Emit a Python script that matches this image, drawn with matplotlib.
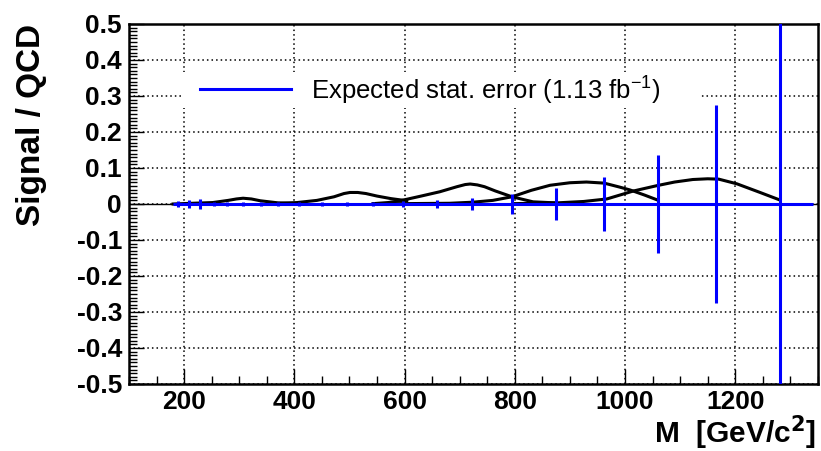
import matplotlib
matplotlib.use("Agg")
import matplotlib.pyplot as plt
from matplotlib.patches import Rectangle
from matplotlib.ticker import MultipleLocator
import numpy as np

# expected statistical error bars (bin centre, half error)
bin_mass = [189, 208, 229, 254, 278, 307, 339, 371, 408, 450, 495, 543,
            598, 658, 723, 795, 875, 962, 1059, 1165, 1281]
bin_err = [0.009, 0.010, 0.013, 0.005, 0.005, 0.006, 0.005, 0.005, 0.005,
           0.005, 0.005, 0.005, 0.008, 0.011, 0.018, 0.028, 0.044, 0.0745,
           0.136, 0.275, 0.6]
hist_lo, hist_hi = 180, 1341

# signal / QCD curves, one per resonance mass
curve_a_m = [180, 215, 252, 280, 295, 307, 322, 338, 371, 420]
curve_a_v = [0.0, 0.002, 0.004, 0.010, 0.014, 0.0160, 0.014, 0.009, 0.003, 0.0005]
curve_b_m = [361, 405, 441, 472, 490, 501, 515, 530, 550, 575, 604]
curve_b_v = [0.001, 0.004, 0.010, 0.020, 0.029, 0.032, 0.032, 0.029, 0.022,
             0.015, 0.009]
curve_c_m = [543, 570, 592, 630, 664, 695, 710, 719, 732, 745, 765, 795,
             833, 875]
curve_c_v = [0.001, 0.004, 0.009, 0.022, 0.034, 0.048, 0.054, 0.0555, 0.053,
             0.048, 0.036, 0.020, 0.006, 0.003]
curve_d_m = [543, 597, 682, 724, 760, 795, 830, 864, 900, 930, 962, 990,
             1009, 1035, 1059]
curve_d_v = [0.0, 0.001, 0.002, 0.005, 0.010, 0.020, 0.038, 0.052, 0.059,
             0.061, 0.058, 0.047, 0.039, 0.025, 0.011]
curve_e_m = [800, 875, 925, 967, 1015, 1058, 1090, 1123, 1150, 1170, 1203,
             1245, 1281]
curve_e_v = [0.001, 0.003, 0.007, 0.014, 0.036, 0.051, 0.061, 0.068, 0.070,
             0.069, 0.056, 0.032, 0.011]
curves = [(curve_a_m, curve_a_v), (curve_b_m, curve_b_v), (curve_c_m, curve_c_v),
          (curve_d_m, curve_d_v), (curve_e_m, curve_e_v)]

plt.rcParams["font.family"] = ["Liberation Sans", "DejaVu Sans"]
blue = "#0000FF"

fig = plt.figure(figsize=(8.21, 4.51), dpi=100)
ax = fig.add_axes([0.1571, 0.1486, 0.8392, 0.7982])
ax.set_xlim(100, 1350)
ax.set_ylim(-0.5, 0.5)

ax.grid(True, which="major", color="black", ls=(0, (1, 2)), lw=1.1)
ax.set_axisbelow(True)

ax.axhline(0, color="black", lw=1.0, zorder=2)
for m, v in curves:
    ax.plot(m, v, color="black", lw=2.2, zorder=3, solid_joinstyle="round")
ax.hlines(0, hist_lo, hist_hi, color=blue, lw=2.2, zorder=4)
ax.errorbar(bin_mass, np.zeros(len(bin_mass)), yerr=bin_err, fmt="none",
            ecolor=blue, elinewidth=2.2, capsize=0, zorder=4)

# legend box, no border, white fill over the grid
ax.add_patch(Rectangle((0.0755, 0.767), 0.755, 0.100, transform=ax.transAxes,
                       facecolor="white", edgecolor="none", zorder=1.5))
ax.plot([0.103, 0.235], [0.819, 0.819], color=blue, lw=2.2,
        transform=ax.transAxes, zorder=5)
ax.text(0.264, 0.819, "Expected stat. error (1.13 fb$^{\\mathregular{-1}}$)",
        transform=ax.transAxes, fontsize=18.5, va="center", ha="left", zorder=5)

ax.xaxis.set_major_locator(MultipleLocator(200))
ax.xaxis.set_minor_locator(MultipleLocator(50))
ax.yaxis.set_major_locator(MultipleLocator(0.1))
ax.yaxis.set_minor_locator(MultipleLocator(0.01))
ax.tick_params(which="both", direction="in", top=False, right=False,
               labelsize=19, width=1.0, color="black")
ax.tick_params(which="major", length=11)
ax.tick_params(which="minor", length=6)
ax.tick_params(axis="y", pad=5)
ax.tick_params(axis="x", pad=4)

yt = np.round(np.arange(-0.5, 0.51, 0.1), 1)
ax.set_yticks(yt, ["0" if v == 0 else f"{v:g}" for v in yt])
for lab in ax.get_xticklabels() + ax.get_yticklabels():
    lab.set_fontweight("bold")

for s in ax.spines.values():
    s.set_linewidth(1.8)

ax.text(-0.142, 1.0, "Signal / QCD", transform=ax.transAxes, rotation=90,
        ha="center", va="top", fontsize=24, fontweight="bold")
ax.text(0.997, -0.166, "M  [GeV/c$^{\\mathbf{2}}$]", transform=ax.transAxes,
        ha="right", va="baseline", fontsize=21.5, fontweight="bold")

fig.savefig("out.png", dpi=100)
